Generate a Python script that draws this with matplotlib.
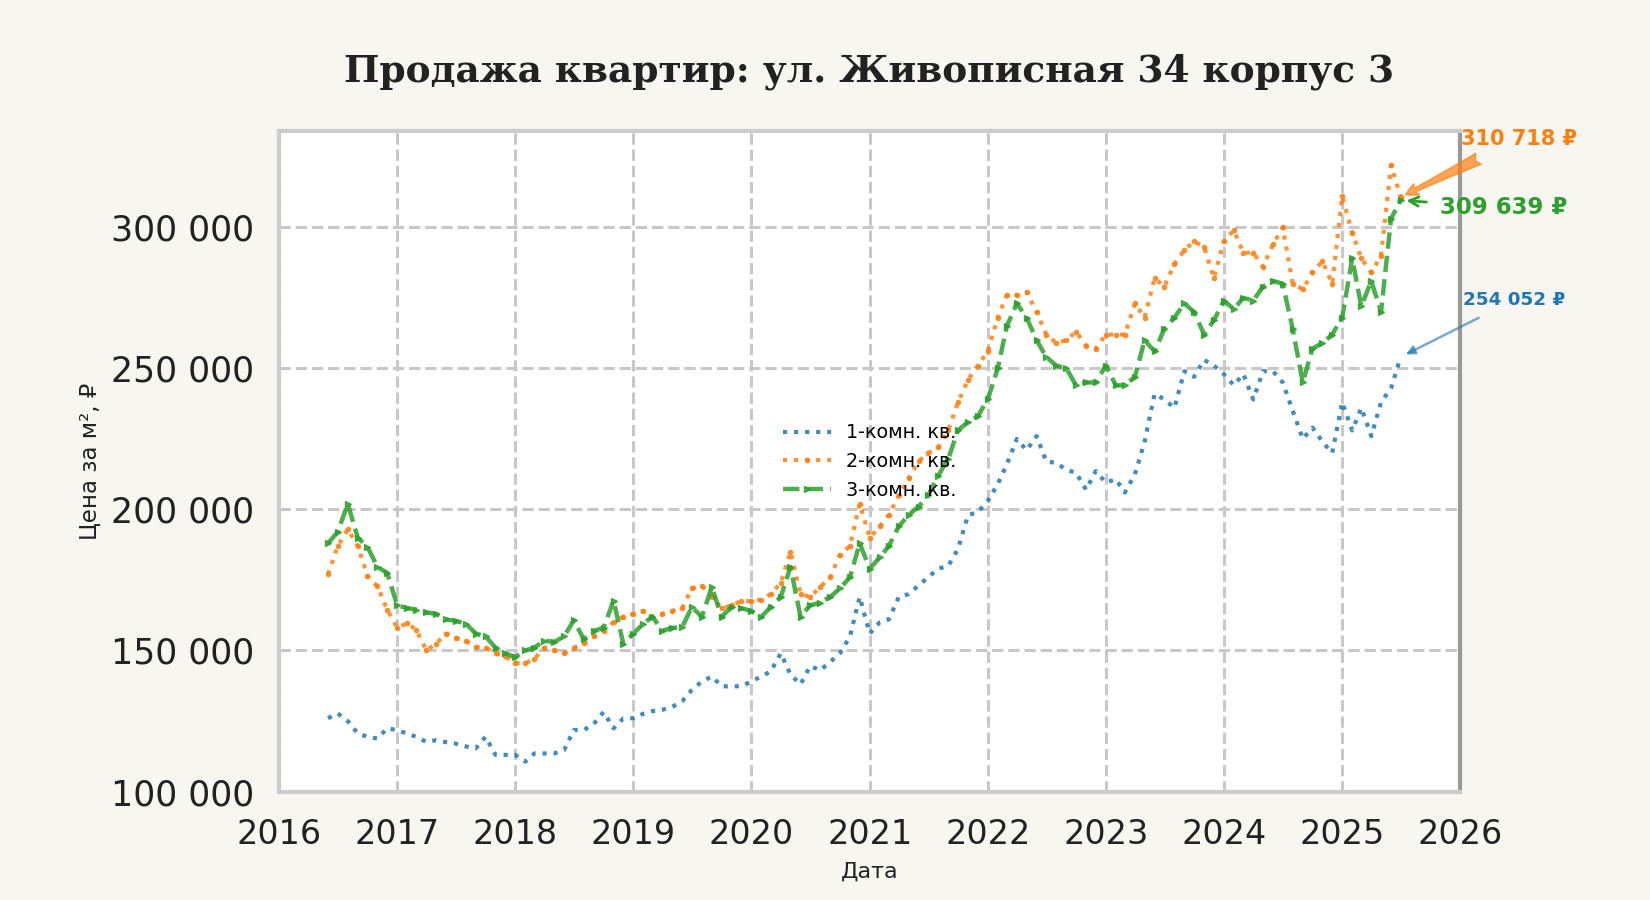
import matplotlib
matplotlib.use("Agg")
import matplotlib.pyplot as plt
import matplotlib.dates as mdates
import matplotlib.ticker as mticker
import pandas as pd

# ---- data (thousands of rubles per m2, monthly) ----
start_month = "2016-06-01"
end_month = "2025-07-01"
series_labels = ["1-комн. кв.", "2-комн. кв.", "3-комн. кв."]

room1 = [126, 127.7, 125, 120.6, 119.4, 118.8, 122.4,
         121.8, 120.5, 119.4, 117.6, 118.2, 117.5, 117, 116, 115.3, 119.4, 113, 113,
         113, 110.6, 113.5, 113.5, 113.5, 114.7, 121.8, 121.8, 124, 128.2, 122.4, 125.9,
         126, 127.6, 128.5, 129, 130, 132, 136, 139, 140.8, 137.3, 137.3, 137.3,
         139, 140.8, 142.6, 149, 141.5, 138, 144.5, 143, 146, 149, 155, 169,
         156, 160, 161, 169, 170, 173, 176, 179, 180, 186, 198, 199,
         203, 209, 216, 225, 221, 226, 217, 216.5, 214, 213, 207, 213.6,
         209.5, 210.7, 206, 212.5, 224, 241, 239, 236, 249, 247, 253, 251,
         248, 244, 248, 239, 249, 249, 245, 235, 225, 229, 224, 220,
         238, 228, 236, 226, 238, 243, 254.052]

room2 = [177, 187, 193, 187, 176.5, 172.7, 164.5,
         158, 159.7, 157.3, 150, 152.4, 156, 154.5, 153.5, 151.2, 151, 149, 148,
         145.5, 145.5, 147, 151, 150, 149, 151, 152.5, 155, 157, 160, 162,
         163, 164, 162, 163, 164, 165, 172, 173, 169, 165, 166, 167.5,
         167.5, 168, 170, 174, 185, 170, 169, 172.5, 176, 184, 187, 202,
         190, 194, 198, 205, 211, 217, 220, 222, 228, 238, 246, 251,
         256, 268, 276, 276, 277, 270, 262, 259, 260, 263, 258, 257,
         262, 262, 262, 273, 268, 282, 279, 287, 292, 295, 293, 282,
         295, 299, 291, 291, 286, 294, 300, 280, 278, 284, 288, 280,
         311, 298, 289, 284, 290, 322, 310.718]

room3 = [188, 192, 202, 190, 186.7, 179.6, 177.5,
         166, 165, 164.5, 163.5, 163, 161, 160.5, 159.5, 156, 155, 151, 149,
         147.6, 150, 151, 153.5, 153, 155, 160.7, 154, 157, 158, 167.7, 152.4,
         156, 159.5, 162, 157, 158, 158.3, 165.4, 162, 172.5, 162, 165.4, 165,
         164, 162, 165.4, 169, 179.6, 162, 166, 167, 169, 172, 176, 188,
         179, 183, 187, 194, 198, 201, 205, 212, 218, 228, 231, 233,
         239, 250, 265, 273, 268, 260, 254, 251, 250, 244, 245, 245,
         251, 244, 244, 247, 260, 256, 264, 268, 273, 270, 262, 267,
         274, 271, 275, 274, 279, 281, 280, 264, 245, 257, 259, 262,
         268, 289, 272, 281, 270, 303, 309.639]

y_ticks = [100000, 150000, 200000, 250000, 300000]

months = pd.date_range(start_month, end_month, freq="MS")
s1 = [v * 1000 for v in room1]
s2 = [v * 1000 for v in room2]
s3 = [v * 1000 for v in room3]

c_blue, c_orange, c_green = "#1f77b4", "#ff7f0e", "#2ca02c"

fig = plt.figure(figsize=(16.5, 9), dpi=100, facecolor="#f7f6f1")
ax = fig.add_axes([0.169, 0.1205, 0.716, 0.7335])
ax.set_facecolor("white")

ax.plot(months, s1, linestyle=":", lw=3, color=c_blue, alpha=0.85, label=series_labels[0], zorder=3)
ax.plot(months, s2, linestyle=":", lw=3, color=c_orange, alpha=0.85, marker="o", markersize=3,
        label=series_labels[1], zorder=3)
ax.plot(months, s3, linestyle="--", lw=3.2, color=c_green, alpha=0.85, marker=">", markersize=4,
        label=series_labels[2], zorder=3)

ax.set_xlim(pd.Timestamp("2016-01-01"), pd.Timestamp("2026-01-01"))
ax.set_ylim(100000, 334000)
ax.xaxis.set_major_locator(mdates.YearLocator())
ax.xaxis.set_major_formatter(mdates.DateFormatter("%Y"))
ax.set_yticks(y_ticks)
ax.yaxis.set_major_formatter(mticker.FuncFormatter(lambda v, p: f"{int(v):,}".replace(",", " ")))
ax.tick_params(axis="both", length=0, colors="#222222")
ax.tick_params(axis="x", labelsize=24, pad=19)
ax.tick_params(axis="y", labelsize=25, pad=18)

ax.grid(True, linestyle="--", color="#c8c8c8", lw=2.2)
ax.set_axisbelow(True)

for side in ["left", "top", "bottom"]:
    ax.spines[side].set_color("#cccccc")
    ax.spines[side].set_linewidth(3)
ax.spines["right"].set_color("#999999")
ax.spines["right"].set_linewidth(3)

ax.set_title("Продажа квартир: ул. Живописная 34 корпус 3", family="DejaVu Serif",
             fontweight="bold", fontsize=27, color="#222222", pad=36)
ax.set_xlabel("Дата", fontsize=16, color="#222222", labelpad=8)
ax.set_ylabel("Цена за м², ₽", fontsize=16.5, color="#222222", labelpad=6)

leg = ax.legend(loc="center", frameon=False, fontsize=13.8, handlelength=2.5)

# annotations of the last values
ax.annotate("310 718 ₽", xy=(months[-1], s2[-1]), xytext=(1.05, 0.989), textcoords="axes fraction",
            ha="center", va="center", fontsize=15, fontweight="bold", color=c_orange,
            arrowprops=dict(arrowstyle="fancy", color=c_orange, alpha=0.7, mutation_scale=22,
                            shrinkA=12, shrinkB=4), annotation_clip=False)
ax.annotate("309 639 ₽", xy=(months[-1], s3[-1]), xytext=(1.037, 0.884), textcoords="axes fraction",
            ha="center", va="center", fontsize=16.5, fontweight="bold", color=c_green,
            arrowprops=dict(arrowstyle="->", color=c_green, lw=2, shrinkA=8, shrinkB=4),
            annotation_clip=False)
ax.annotate("254 052 ₽", xy=(months[-1], s1[-1]), xytext=(1.046, 0.745), textcoords="axes fraction",
            ha="center", va="center", fontsize=13.2, fontweight="bold", color=c_blue,
            arrowprops=dict(arrowstyle="-|>", color=c_blue, lw=1.8, alpha=0.6, shrinkA=10, shrinkB=4),
            annotation_clip=False)

fig.savefig("out.png", dpi=100, facecolor=fig.get_facecolor())
